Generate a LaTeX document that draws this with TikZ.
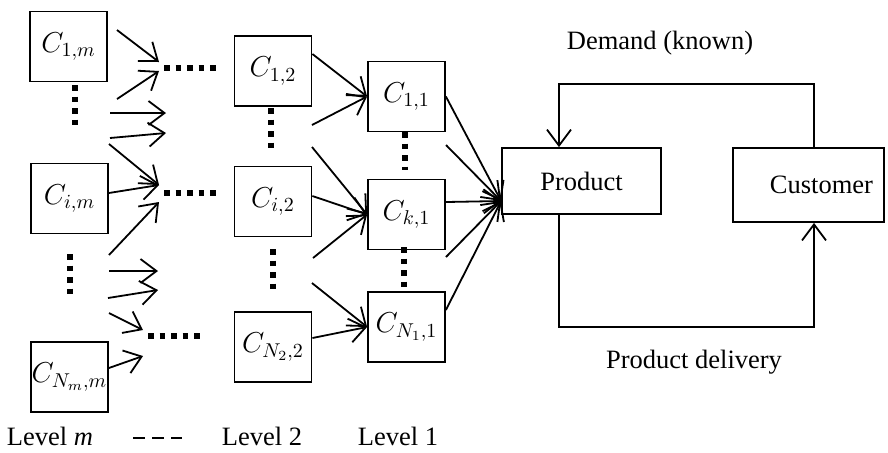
\documentclass[tikz,border=0pt]{standalone}
\usepackage{fontspec}
\setmainfont{Liberation Serif}
\usetikzlibrary{arrows.meta}
\begin{document}
\begin{tikzpicture}[x=0.5pt,y=-0.5pt,
  box/.style={draw, line width=0.9pt, minimum width=38.5pt, minimum height=35pt, inner sep=0pt, font=\fontsize{14}{16}\selectfont},
  arr/.style={draw, line width=0.9pt, -{Straight Barb[length=8pt,width=12pt,line width=0.9pt]}},
  conn/.style={draw, line width=0.9pt},
  dots/.style={line width=2.75pt, dash pattern=on 2.75pt off 3pt},
  lbl/.style={font=\fontsize{13.25}{16}\selectfont, inner sep=0pt}]
\useasboundingbox (0,0) rectangle (888,452);

% boxes
\node[box] (c1m) at (68.5,46.5) {$C_{1,m}$};
\node[box] (cim) at (69.5,198.5) {$C_{i,m}$};
\node[box] (cnm) at (69.5,377) {$C_{N_m,m}$};
\node[box] (c12) at (273,71) {$C_{1,2}$};
\node[box] (ci2) at (273,201.5) {$C_{i,2}$};
\node[box] (cn2) at (273,347) {$C_{N_2,2}$};
\node[box] (c11) at (406.5,96.5) {$C_{1,1}$};
\node[box] (ck1) at (406.5,214.5) {$C_{k,1}$};
\node[box] (cn1) at (406.5,327) {$C_{N_1,1}$};
\node[box, font=\fontsize{13.25}{16}\selectfont, minimum width=79.5pt, minimum height=33pt] (prod) at (581.5,181) {Product};
\node[box, minimum width=75.5pt, minimum height=37pt, label={[lbl,xshift=6.5pt]center:Customer}] (cust) at (808.5,185) {};

% dotted separators
\draw[dots] (164,68) -- (218,68);
\draw[dots] (164,193) -- (218,193);
\draw[dots] (148,336) -- (202,336);
\draw[dots] (75,85) -- (75,125);
\draw[dots] (70,254) -- (70,296);
\draw[dots] (271,108) -- (271,150);
\draw[dots] (273,249) -- (273,289);
\draw[dots] (405,132) -- (405,170);
\draw[dots] (404,247) -- (404,288);

% level m -> level 2 (free ends)
\coordinate (s1) at (117,30);  \coordinate (t1) at (159,62);
\coordinate (s2) at (117,99);  \coordinate (t2) at (159,71);
\coordinate (s3) at (110,113); \coordinate (t3) at (166,113);
\coordinate (s4) at (110,138); \coordinate (t4) at (166,133);
\coordinate (s5) at (109,144); \coordinate (t5) at (159,185);
\coordinate (s7) at (109,255); \coordinate (t7) at (159,202);
\coordinate (s8) at (109,271); \coordinate (t8) at (158,271);
\coordinate (s9) at (108,298); \coordinate (t9) at (158,290);
\coordinate (s10) at (109,313); \coordinate (t10) at (143,330);
\coordinate (t11) at (143,356);
\draw[arr] (s1) -- (t1);
\draw[arr] (s2) -- (t2);
\draw[arr] (s3) -- (t3);
\draw[arr] (s4) -- (t4);
\draw[arr] (s5) -- (t5);
\draw[arr] ([yshift=2.75pt]cim.east) -- (t5);
\draw[arr] (s7) -- (t7);
\draw[arr] (s8) -- (t8);
\draw[arr] (s9) -- (t9);
\draw[arr] (s10) -- (t10);
\draw[arr] ([yshift=4.5pt]cnm.east) -- (t11);

% level 2 -> level 1
\coordinate (u2) at (312,125);
\coordinate (u3) at (312,147);
\coordinate (u5) at (313,258);
\coordinate (u6) at (312,283);
\draw[arr] ([yshift=8.5pt]c12.east) -- (c11.west);
\draw[arr] (u2) -- (c11.west);
\draw[arr] (u3) -- (ck1.west);
\draw[arr] ([yshift=2.75pt]ci2.east) -- (ck1.west);
\draw[arr] (u5) -- (ck1.west);
\draw[arr] (u6) -- (cn1.west);
\draw[arr] ([yshift=4.5pt]cn2.east) -- (cn1.west);

% level 1 -> product
\coordinate (v2) at (446,145);
\coordinate (v4) at (446,257);
\coordinate (pin) at ([yshift=-10pt]prod.west);
\draw[arr] (c11.east) -- (pin);
\draw[arr] (v2) -- (pin);
\draw[arr] ([yshift=6.25pt]ck1.east) -- (pin);
\draw[arr] (v4) -- (pin);
\draw[arr] ([yshift=8.5pt]cn1.east) -- (pin);

% feedback loops
\coordinate (d1) at (814,84);
\coordinate (d2) at (559,84);
\draw[arr] (cust.north -| d1) -- (d1) -- (d2) -- (prod.north -| d2);
\coordinate (e1) at (559,327);
\coordinate (e2) at (814,327);
\draw[arr] (prod.south -| e1) -- (e1) -- (e2) -- (cust.south -| e2);

% labels
\node[lbl] (dem) at (660,43) {Demand (known)};
\node[lbl] (del) at (694,362) {Product delivery};
\node[lbl] (lm) at (50,436) {Level \textit{m}};
\node[lbl] (l2) at (262,436) {Level 2};
\node[lbl] (l1) at (398,436) {Level 1};
\coordinate (ds) at (133,438);
\coordinate (de) at (182,438);
\draw[line width=1.3pt, dash pattern=on 6pt off 3.5pt] (ds) -- (de);
\end{tikzpicture}
\end{document}
